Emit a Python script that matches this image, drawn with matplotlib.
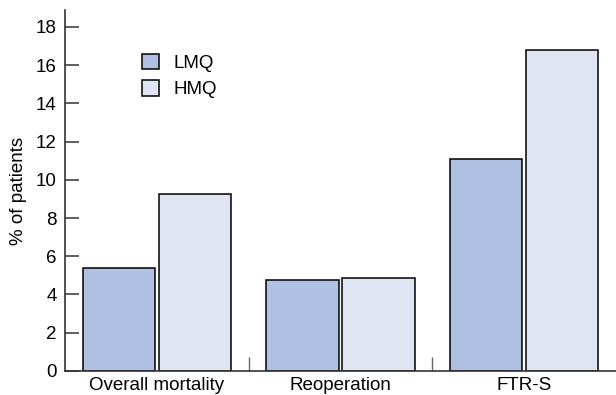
import matplotlib.pyplot as plt
from matplotlib.patches import Patch

plt.rcParams['font.family'] = ['Liberation Sans', 'DejaVu Sans']

categories = ['Overall mortality', 'Reoperation', 'FTR-S']
lmq = [5.4, 4.75, 11.07]
hmq = [9.27, 4.86, 16.77]
series_names = ['LMQ', 'HMQ']
yticks = [0, 2, 4, 6, 8, 10, 12, 14, 16, 18]

lmq_color = '#afc0e3'
hmq_color = '#dfe5f3'
fs = 13.5

fig = plt.figure(figsize=(6.16, 3.95), dpi=100)
ax = fig.add_axes([0.1055, 0.0608, 0.8945, 0.914])

x = list(range(len(categories)))
width = 0.395
off = 0.207
ax.bar([i - off for i in x], lmq, width, color=lmq_color, edgecolor='black', linewidth=1.1)
ax.bar([i + off for i in x], hmq, width, color=hmq_color, edgecolor='black', linewidth=1.1)

ax.set_xlim(-0.5, 2.5)
ax.set_ylim(0, 18.88)
ax.set_yticks(yticks)
ax.set_xticks(x)
ax.set_xticklabels(categories, fontsize=fs)
ax.tick_params(axis='x', length=0, pad=4.5)
# separators between groups
ax.set_xticks([0.5, 1.5], minor=True)
ax.tick_params(axis='x', which='minor', direction='in', length=10, color='#666666', width=1)
ax.tick_params(axis='y', direction='in', length=10, width=1.1, color='#333333', labelsize=fs, pad=6)

for s in ['top', 'right']:
    ax.spines[s].set_visible(False)
for s in ['left', 'bottom']:
    ax.spines[s].set_color('#333333')
    ax.spines[s].set_linewidth(1.2)

ax.set_ylabel('% of patients', fontsize=fs, labelpad=6)

handles = [Patch(facecolor=lmq_color, edgecolor='black', linewidth=1.1),
           Patch(facecolor=hmq_color, edgecolor='black', linewidth=1.1)]
ax.legend(handles, series_names, loc='upper left', bbox_to_anchor=(0.11, 0.926),
          frameon=False, fontsize=fs, handlelength=0.9, handleheight=0.9,
          handletextpad=0.75, labelspacing=0.45)

fig.savefig('out.png', dpi=100)
plt.close(fig)
